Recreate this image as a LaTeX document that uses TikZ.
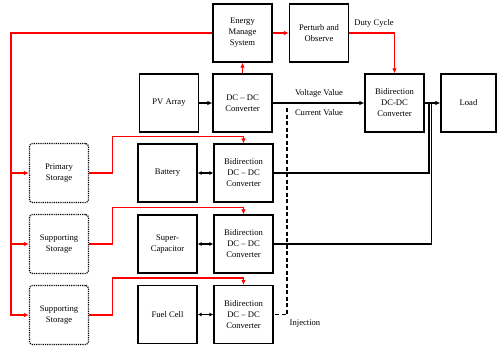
\documentclass[tikz,border=0pt]{standalone}
\usepackage{fontspec}
\setmainfont{Liberation Serif}
\usetikzlibrary{arrows.meta}
\begin{document}
\begin{tikzpicture}[x=1pt,y=-1pt,
  font=\fontsize{8.6}{11}\selectfont,
  box/.style={draw, line width=1.2pt, minimum width=59pt, minimum height=58pt, align=center, inner sep=0pt},
  sbox/.style={draw, densely dotted, line width=1.2pt, rounded corners=3pt, minimum width=59pt, minimum height=59pt, align=center, inner sep=0pt},
  redarr/.style={draw=red, line width=1.3pt, -{Latex[length=5pt,width=4.5pt]}},
  blkarr/.style={draw=black, line width=1.3pt, -{Latex[length=5pt,width=4.5pt]}},
  blk/.style={draw=black, line width=1.3pt},
  dbl/.style={draw=black, line width=1.3pt, {Latex[length=4pt,width=4pt]}-{Latex[length=4pt,width=4pt]}},
  lbl/.style={inner sep=0pt}
]
\useasboundingbox (0,0) rectangle (498,346);

% nodes
\node[box] (EMS) at (242.5,33) {Energy\\Manage\\System};
\node[box] (PO) at (319,33) {Perturb and\\Observe};
\node[box] (PV) at (169,103) {PV Array};
\node[box] (DCDC) at (242.5,103) {DC -- DC\\Converter};
\node[box] (BiTop) at (394.5,103) {Bidirection\\DC-DC\\Converter};
\node[box, minimum width=55pt] (Load) at (468.5,103) {Load};

\node[sbox] (PS) at (59,173) {Primary\\Storage};
\node[sbox] (SS1) at (59,244) {Supporting\\Storage};
\node[sbox] (SS2) at (59,315) {Supporting\\Storage};

\node[box] (Bat) at (167.5,173) {Battery};
\node[box] (BC1) at (243.5,173) {Bidirection\\DC -- DC\\Converter};
\node[box] (SC) at (167.5,244) {Super-\\Capacitor};
\node[box] (BC2) at (243.5,244) {Bidirection\\DC -- DC\\Converter};
\node[box] (FC) at (167.5,314.5) {Fuel Cell};
\node[box] (BC3) at (243.5,314.5) {Bidirection\\DC -- DC\\Converter};

% coordinates
\coordinate (L) at (11,33);
\coordinate (J1) at (429,103);
\coordinate (J2) at (431.5,103);
\coordinate (D0) at (287,108);

% red control lines
\draw[redarr] (EMS.west) -- (L) |- (SS2.west);
\draw[redarr] (L |- PS.west) -- (PS.west);
\draw[redarr] (L |- SS1.west) -- (SS1.west);
\draw[redarr] (PS.east) -- ++(23.5,0) |- ([yshift=7pt]BC1.north) -- (BC1.north);
\draw[redarr] (SS1.east) -- ++(23.5,0) |- ([yshift=7pt]BC2.north) -- (BC2.north);
\draw[redarr] (SS2.east) -- ++(23.5,0) |- ([yshift=7pt]BC3.north) -- (BC3.north);
\draw[redarr] (DCDC.north) -- (EMS.south);
\draw[redarr] (EMS.east) -- (PO.east -| PO.west);
\draw[redarr] (PO.east) -| (BiTop.north);

% black power lines
\draw[blkarr] (PV.east) -- (DCDC.west);
\draw[blkarr] (DCDC.east) -- (BiTop.west);
\draw[blkarr] (BiTop.east) -- (Load.west);
\draw[blk] (BC1.east) -| (J1);
\draw[blk] (BC2.east) -| (J2);
\draw[dbl] (Bat.east) -- (BC1.west);
\draw[dbl] (SC.east) -- (BC2.west);
\draw[dbl] (FC.east) -- (BC3.west);
\draw[draw=black, line width=1.3pt, dash pattern=on 4pt off 2.5pt] (D0) |- (BC3.east);

% labels
\node[lbl] (duty) at (374,23) {Duty Cycle};
\node[lbl] (volt) at (319,93) {Voltage Value};
\node[lbl] (curr) at (319,113) {Current Value};
\node[lbl] (inj) at (305,324) {Injection};
\end{tikzpicture}
\end{document}
